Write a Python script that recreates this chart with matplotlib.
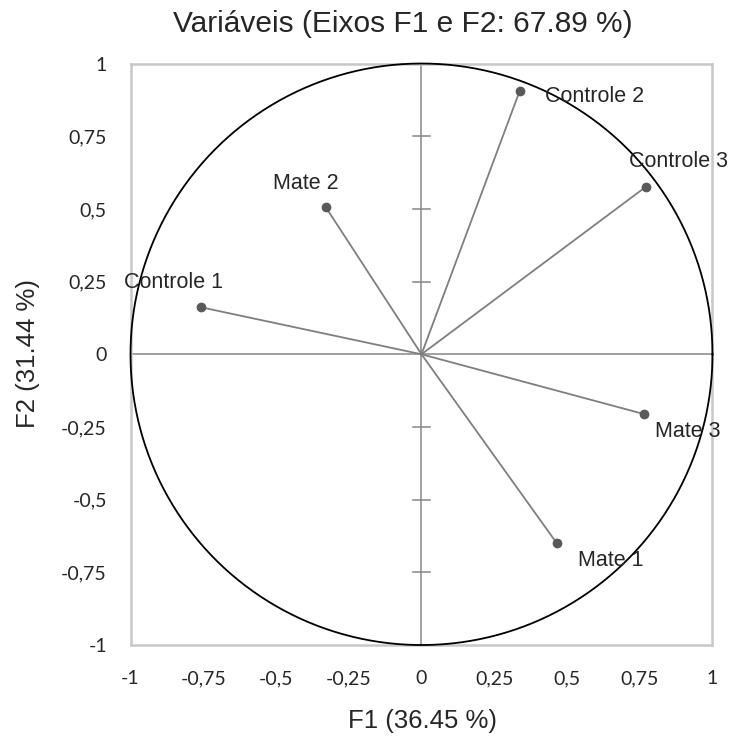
import numpy as np
import matplotlib
matplotlib.use('Agg')
import matplotlib.pyplot as plt

# variable loadings on F1 / F2
names = ['Controle 1', 'Controle 2', 'Controle 3', 'Mate 1', 'Mate 2', 'Mate 3']
f1 = [-0.759, 0.338, 0.771, 0.465, -0.329, 0.766]
f2 = [0.162, 0.907, 0.576, -0.650, 0.506, -0.206]
# label offsets (pixels) and alignment per variable
offsets = [(-27, 25), (25, -6), (33, 25), (21, -17), (-20, 24), (11, -17)]
aligns = ['center', 'left', 'center', 'left', 'center', 'left']

ticks = [-1, -0.75, -0.5, -0.25, 0, 0.25, 0.5, 0.75, 1]
tick_labels = ['-1', '-0,75', '-0,5', '-0,25', '0', '0,25', '0,5', '0,75', '1']

plt.rcParams['font.family'] = ['Liberation Sans', 'DejaVu Sans']
TXT = '#262626'
GRAY = '#868686'

fig = plt.figure(figsize=(7.34, 7.36), dpi=100)
ax = fig.add_axes([0.1778, 0.1236, 0.7929, 0.7901])
ax.set_xlim(-1, 1)
ax.set_ylim(-1, 1)

# unit circle
t = np.linspace(0, 2 * np.pi, 400)
ax.plot(np.cos(t), np.sin(t), color='black', lw=1.3, zorder=3, clip_on=False)

# centre axes
ax.axhline(0, color=GRAY, lw=1.1, zorder=1)
ax.axvline(0, color=GRAY, lw=1.1, zorder=1)
for v in ticks[1:-1]:
    if v != 0:
        ax.plot([-0.028, 0.028], [v, v], color=GRAY, lw=1.1, zorder=1)

# vectors and points
for x, y, name, off, ha in zip(f1, f2, names, offsets, aligns):
    ax.plot([0, x], [0, y], color='#7f7f7f', lw=1.3, zorder=2)
    ax.plot(x, y, 'o', color='#595959', ms=6, zorder=4)
    ax.annotate(name, (x, y), xytext=off, textcoords='offset pixels',
                ha=ha, va='center', fontsize=15.5, color=TXT, zorder=5,
                annotation_clip=False)

ax.set_xticks(ticks)
ax.set_xticklabels(tick_labels)
ax.set_yticks(ticks)
ax.set_yticklabels(tick_labels)
ax.tick_params(length=0, labelsize=14, colors=TXT)
ax.tick_params(axis='x', pad=18)
ax.tick_params(axis='y', pad=17)
for lab in ax.get_xticklabels() + ax.get_yticklabels():
    lab.set_family(['Lato', 'DejaVu Sans'])
for s in ax.spines.values():
    s.set_color('#c8c8c8')
    s.set_linewidth(1.8)

fig.text(403 / 734, 1 - 24 / 736, 'Variáveis (Eixos F1 e F2: 67.89 %)',
         ha='center', va='center', fontsize=21.5, color=TXT)
fig.text(422 / 734, 1 - 721 / 736, 'F1 (36.45 %)', ha='center', va='center',
         fontsize=18.5, color=TXT)
fig.text(28 / 734, 1 - 354 / 736, 'F2 (31.44 %)', ha='center', va='center',
         fontsize=18.5, color=TXT, rotation=90)

fig.savefig('out.png', dpi=100)
